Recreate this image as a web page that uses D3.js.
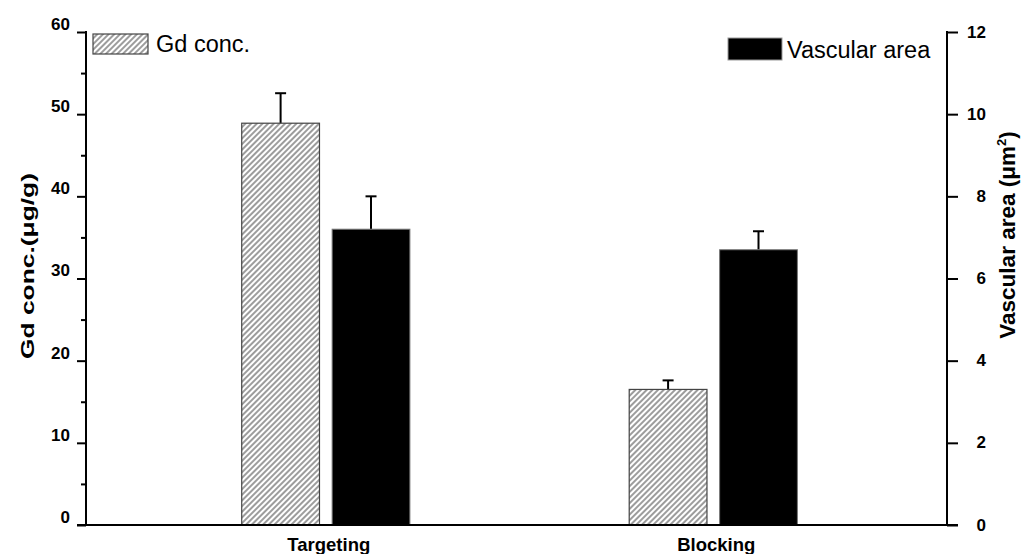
<!DOCTYPE html>
<html>
<head>
<meta charset="utf-8">
<script src="https://cdn.jsdelivr.net/npm/d3@7"></script>
<style>
  body { margin: 0; background: #fff; }
  text { font-family: "Liberation Sans", Arial, sans-serif; }
</style>
</head>
<body>
<div id="container"></div>
<script>
// data
let categories = ["Targeting", "Blocking"];
let gdConc = [48.9, 16.5];        // μg/g, left axis
let gdErr = [3.65, 1.1];
let vascArea = [7.2, 6.7];        // μm², right axis
let vascErr = [0.8, 0.45];
let leftTicks = [0, 10, 20, 30, 40, 50, 60];
let leftMinor = [5, 15, 25, 35, 45, 55];
let rightTicks = [0, 2, 4, 6, 8, 10, 12];

let w = 1022, h = 554;
let x0 = 86, x1 = 947, yTop = 32, yBot = 525;

let svg = d3.select("div#container").append("svg")
    .attr("width", w).attr("height", h)
    .style("background-color", "#fff");

// hatch for Gd bars
let defs = svg.append("defs");
defs.append("pattern")
    .attr("id", "hatch")
    .attr("patternUnits", "userSpaceOnUse")
    .attr("width", 4).attr("height", 10)
    .attr("patternTransform", "rotate(45)")
    .append("line")
    .attr("x1", 1).attr("y1", 0).attr("x2", 1).attr("y2", 10)
    .attr("stroke", "#222").attr("stroke-width", 0.9);

let x = d3.scaleBand().domain(categories).range([x0, x1])
    .paddingInner(0.566).paddingOuter(0.394).align(0.51);
let xs = d3.scaleBand().domain(["gd", "vasc"]).range([0, x.bandwidth()])
    .paddingInner(0.14);
let yL = d3.scaleLinear().domain([0, 60]).range([yBot, yTop]);
let yR = d3.scaleLinear().domain([0, 12]).range([yBot, yTop]);

let rows = categories.map((c, i) => ({
    cat: c, gd: gdConc[i], gdE: gdErr[i], va: vascArea[i], vaE: vascErr[i]
}));

// error bars (drawn first, bars cover the lower end)
function errBar(cx, yv, ye) {
    svg.append("line").attr("x1", cx).attr("x2", cx)
        .attr("y1", yv).attr("y2", ye)
        .attr("stroke", "#000").attr("stroke-width", 2);
    svg.append("line").attr("x1", cx - 5.5).attr("x2", cx + 5.5)
        .attr("y1", ye).attr("y2", ye)
        .attr("stroke", "#000").attr("stroke-width", 2);
}
rows.forEach(d => {
    let bx = x(d.cat);
    errBar(bx + xs("gd") + xs.bandwidth() / 2, yL(d.gd), yL(d.gd + d.gdE));
    errBar(bx + xs("vasc") + xs.bandwidth() / 2, yR(d.va), yR(d.va + d.vaE));
});

// bars
svg.selectAll("rect.gd").data(rows).enter().append("rect")
    .attr("class", "gd")
    .attr("x", d => x(d.cat) + xs("gd"))
    .attr("y", d => yL(d.gd))
    .attr("width", xs.bandwidth())
    .attr("height", d => yBot - yL(d.gd))
    .attr("fill", "url(#hatch)")
    .attr("stroke", "#444").attr("stroke-width", 1.2);

svg.selectAll("rect.va").data(rows).enter().append("rect")
    .attr("class", "va")
    .attr("x", d => x(d.cat) + xs("vasc"))
    .attr("y", d => yR(d.va))
    .attr("width", xs.bandwidth())
    .attr("height", d => yBot - yR(d.va))
    .attr("fill", "#000")
    .attr("stroke", "#777").attr("stroke-width", 1);

// axes
let gL = svg.append("g").attr("transform", `translate(${x0},0)`)
    .call(d3.axisLeft(yL).tickValues(leftTicks).tickSize(9).tickPadding(7).tickFormat(d3.format("d")));
let gLm = svg.append("g").attr("transform", `translate(${x0},0)`)
    .call(d3.axisLeft(yL).tickValues(leftMinor).tickSize(5).tickFormat(""));
gLm.select(".domain").remove();
gL.selectAll("text").attr("dy", "-0.15em");

let gR = svg.append("g").attr("transform", `translate(${x1},0)`)
    .call(d3.axisRight(yR).tickValues(rightTicks).tickSize(11).tickPadding(20).tickFormat(d3.format("d")));
gR.selectAll("text").attr("text-anchor", "end").attr("x", 39).attr("dy", "0.3em");

[gL, gLm, gR].forEach(g => {
    g.selectAll(".tick line").attr("stroke", "#000").attr("stroke-width", 2);
    g.selectAll("text").attr("fill", "#000")
        .style("font-size", "17px").style("font-weight", "bold");
});
// straight axis lines (no end caps)
gL.select(".domain").remove();
gR.select(".domain").remove();
svg.append("line").attr("x1", x0).attr("x2", x0).attr("y1", yTop - 1).attr("y2", yBot)
    .attr("stroke", "#000").attr("stroke-width", 2);
svg.append("line").attr("x1", x1).attr("x2", x1).attr("y1", yTop - 1).attr("y2", yBot)
    .attr("stroke", "#000").attr("stroke-width", 2);
svg.append("line").attr("x1", x0 - 9).attr("x2", x1 + 11).attr("y1", yBot).attr("y2", yBot)
    .attr("stroke", "#000").attr("stroke-width", 2);

// category labels
svg.selectAll("text.cat").data(categories).enter().append("text")
    .attr("class", "cat")
    .attr("x", d => x(d) + x.bandwidth() / 2 + 3)
    .attr("y", 551)
    .attr("text-anchor", "middle")
    .style("font-size", "18.5px").style("font-weight", "bold")
    .text(d => d);

// axis titles
svg.append("text")
    .attr("transform", "translate(34,266) rotate(-90)")
    .attr("text-anchor", "middle")
    .attr("textLength", 186).attr("lengthAdjust", "spacingAndGlyphs")
    .style("font-size", "19px").style("font-weight", "bold")
    .text("Gd conc.(μg/g)");

let rt = svg.append("text")
    .attr("transform", "translate(1015,235) rotate(-90)")
    .attr("text-anchor", "middle")
    .style("font-size", "22.5px").style("font-weight", "bold");
rt.append("tspan").text("Vascular area (μm");
rt.append("tspan").attr("dy", -9).style("font-size", "13px").text("2");
rt.append("tspan").attr("dy", 9).text(")");

// legends
svg.append("rect").attr("x", 93).attr("y", 34).attr("width", 55).attr("height", 20)
    .attr("fill", "url(#hatch)").attr("stroke", "#444").attr("stroke-width", 1.2);
svg.append("text").attr("x", 156).attr("y", 52)
    .style("font-size", "23.5px").text("Gd conc.");
svg.append("rect").attr("x", 728).attr("y", 38).attr("width", 54).attr("height", 22)
    .attr("fill", "#000").attr("stroke", "#999").attr("stroke-width", 1);
svg.append("text").attr("x", 787).attr("y", 58)
    .style("font-size", "23.5px").text("Vascular area");
</script>
</body>
</html>
